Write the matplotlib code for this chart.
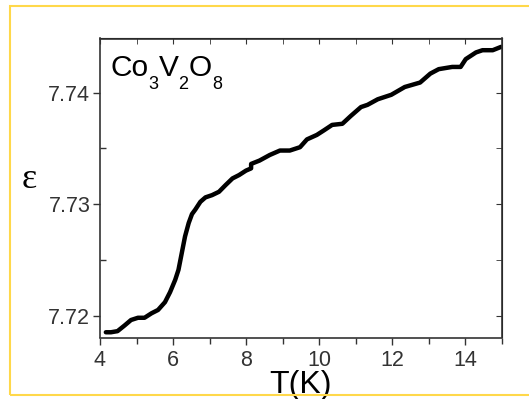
import matplotlib
matplotlib.use("Agg")
import matplotlib.pyplot as plt
from matplotlib.ticker import MultipleLocator
from matplotlib.patches import Rectangle

plt.rcParams['font.family'] = ['Liberation Sans', 'DejaVu Sans']

T = [4.16, 4.30, 4.48, 4.67, 4.85, 5.04, 5.22, 5.41, 5.59, 5.78, 5.92, 6.06,
     6.15, 6.24, 6.33, 6.43, 6.52, 6.61, 6.75, 6.89, 7.07, 7.26, 7.44, 7.63,
     7.81, 8.00, 8.14, 8.14, 8.37, 8.65, 8.93, 9.20, 9.48, 9.67, 9.94, 10.13,
     10.36, 10.64, 10.87, 11.15, 11.33, 11.61, 11.98, 12.35, 12.77, 13.05,
     13.28, 13.65, 13.88, 14.02, 14.30, 14.48, 14.76, 14.99]
eps = [7.7185, 7.7185, 7.7186, 7.7191, 7.7196, 7.7198, 7.7198, 7.7202, 7.7205,
       7.7212, 7.7221, 7.7232, 7.7241, 7.7256, 7.7271, 7.7283, 7.7291, 7.7295,
       7.7302, 7.7306, 7.7308, 7.7311, 7.7317, 7.7323, 7.7326, 7.7330, 7.7332,
       7.7336, 7.7339, 7.7344, 7.7348, 7.7348, 7.7351, 7.7358, 7.7362, 7.7366,
       7.7371, 7.7372, 7.7379, 7.7387, 7.7389, 7.7394, 7.7398, 7.7405, 7.7409,
       7.7417, 7.7421, 7.7423, 7.7423, 7.7430, 7.7436, 7.7438, 7.7438, 7.7441]
xticks = [4, 6, 8, 10, 12, 14]
yticks = [7.72, 7.73, 7.74]
ytick_labels = ['7.72', '7.73', '7.74']
formula_parts = [('Co', False), ('3', True), ('V', False), ('2', True), ('O', False), ('8', True)]

fig = plt.figure(figsize=(5.29, 3.99), dpi=100)
fig.patch.set_facecolor('white')
# yellow frame
fig.patches.append(Rectangle((10/529, 1 - 395/399), 1.2, (395 - 6)/399,
                             transform=fig.transFigure, fill=False,
                             edgecolor='#FFD84A', linewidth=1.5, clip_on=False))

ax = fig.add_axes([100/529, 1 - 337.5/399, (501.5 - 100)/529, (337.5 - 38.5)/399])
ax.plot(T, eps, color='black', lw=3.2, solid_capstyle='round', solid_joinstyle='round')
ax.set_xlim(4, 15)
ax.set_ylim(7.71803, 7.74485)
ax.set_xticks(xticks)
ax.set_yticks(yticks)
ax.set_yticklabels(ytick_labels)
ax.xaxis.set_minor_locator(MultipleLocator(1))
ax.yaxis.set_minor_locator(MultipleLocator(0.005))

for s in ax.spines.values():
    s.set_color('#333333')
    s.set_linewidth(1.2)

ax.tick_params(axis='both', which='both', colors='#333333', labelcolor='#333333',
               labelsize=15.5, width=1.0)
ax.tick_params(axis='x', which='major', direction='out', length=5, pad=4)
ax.tick_params(axis='x', which='minor', direction='out', length=4)
ax.tick_params(axis='y', which='major', direction='out', length=5, pad=2)
ax.tick_params(axis='y', which='minor', direction='in', length=4)
ax.tick_params(top=False, right=False, which='both')

ax2 = ax.secondary_xaxis('top')
ax2.set_xticks(xticks)
ax2.xaxis.set_minor_locator(MultipleLocator(1))
ax2.tick_params(which='both', direction='in', length=4, labeltop=False, colors='#333333')
ax3 = ax.secondary_yaxis('right')
ax3.set_yticks(yticks)
ax3.yaxis.set_minor_locator(MultipleLocator(0.005))
ax3.tick_params(which='both', direction='in', length=4, labelright=False, colors='#333333')

ax.set_xlabel('T(K)', fontsize=23, labelpad=-1, color='black')
fig.text(29/529, 1 - 179/399, 'ε', fontsize=26, ha='center', va='center',
         color='black', family=['Liberation Serif', 'DejaVu Serif'])

# formula with deep subscripts, placed piece by piece
renderer = fig.canvas.get_renderer()
x_px = 110.0
base_px = 399 - 76.5
for s, is_sub in formula_parts:
    size = 13 if is_sub else 21.5
    y_px = base_px - 12.5 if is_sub else base_px
    t = fig.text(x_px / 529, y_px / 399, s, fontsize=size, ha='left', va='baseline',
                 color='black')
    bb = t.get_window_extent(renderer)
    x_px += bb.width + (0.5 if is_sub else 0.0)

fig.savefig('out.png', dpi=100)
